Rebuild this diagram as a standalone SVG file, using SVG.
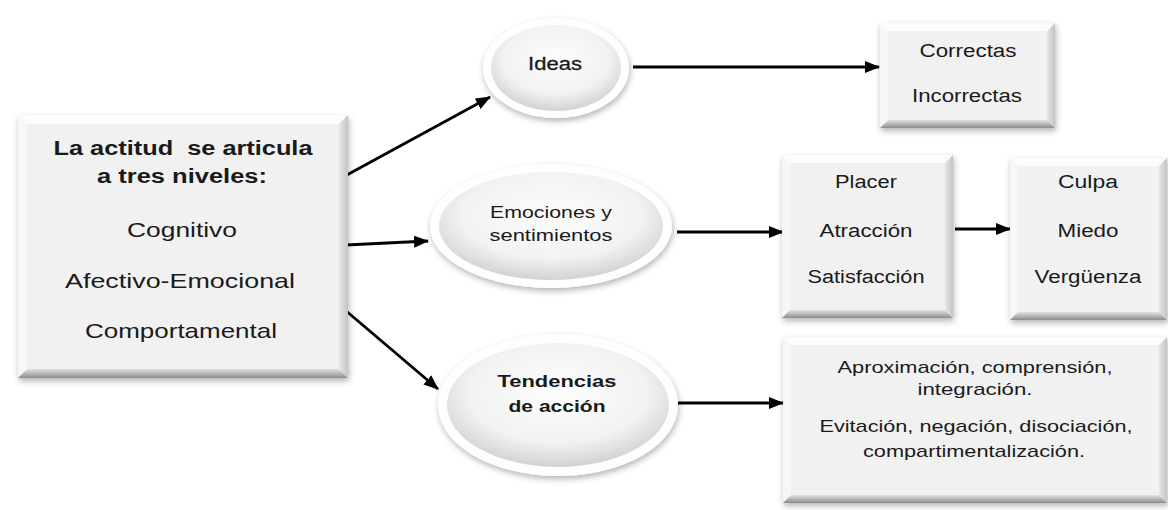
<svg xmlns="http://www.w3.org/2000/svg" width="1168" height="510" viewBox="0 0 1168 510">
<style>
text{font-family:"Liberation Sans",Arial,sans-serif;fill:#1a1a1a;text-anchor:middle;white-space:pre}
.b{font-weight:bold}
.conn{stroke:#000;stroke-width:2.8;fill:none}
.bt{fill:#fcfcfc}.bl{fill:#f7f7f7}.bb{fill:url(#gb)}.br{fill:url(#gr)}.face{fill:#f1f1f1}
.outer{fill:#f8f8f8}
.ering{fill:#fefefe}
.einner{fill:url(#ge)}
</style>
<defs>
<filter id="sh" x="-10%" y="-10%" width="125%" height="130%">
<feGaussianBlur in="SourceAlpha" stdDeviation="3"/>
<feOffset dx="1" dy="3" result="o"/>
<feComponentTransfer><feFuncA type="linear" slope="0.3"/></feComponentTransfer>
<feMerge><feMergeNode/><feMergeNode in="SourceGraphic"/></feMerge>
</filter>
<linearGradient id="gb" x1="0" y1="0" x2="0" y2="1"><stop offset="0" stop-color="#e2e2e2"/><stop offset="1" stop-color="#8c8c8c"/></linearGradient>
<linearGradient id="gr" x1="0" y1="0" x2="1" y2="0"><stop offset="0" stop-color="#e6e6e6"/><stop offset="1" stop-color="#c4c4c4"/></linearGradient>
<radialGradient id="ge" cx="50%" cy="40%" r="62%"><stop offset="0" stop-color="#fdfdfd"/><stop offset="0.65" stop-color="#f2f2f2"/><stop offset="1" stop-color="#cfcfcf"/></radialGradient>
<marker id="ah" markerUnits="userSpaceOnUse" markerWidth="16" markerHeight="14" refX="14" refY="7" orient="auto"><path d="M0,1 L15,7 L0,13 Z" fill="#000"/></marker>
</defs>

<g id="connectors">
<line class="conn" x1="345" y1="176" x2="490" y2="97" marker-end="url(#ah)"/>
<line class="conn" x1="346" y1="245" x2="428" y2="241" marker-end="url(#ah)"/>
<line class="conn" x1="345" y1="310" x2="438" y2="389" marker-end="url(#ah)"/>
<line class="conn" x1="633" y1="67" x2="879" y2="67" marker-end="url(#ah)"/>
<line class="conn" x1="677" y1="232" x2="783" y2="232" marker-end="url(#ah)"/>
<line class="conn" x1="955" y1="229" x2="1010" y2="229" marker-end="url(#ah)"/>
<line class="conn" x1="678" y1="403" x2="783" y2="403" marker-end="url(#ah)"/>
</g>

<g id="actitud">
<rect class="outer" x="18" y="115" width="330" height="263" filter="url(#sh)"/>
<polygon class="bt" points="18,115 348,115 339,124 27,124"/>
<polygon class="bl" points="18,115 27,124 27,369 18,378"/>
<polygon class="bb" points="18,378 27,369 339,369 348,378"/>
<polygon class="br" points="348,115 348,378 339,369 339,124"/>
<rect class="face" x="27" y="124" width="312" height="245"/>
<text class="b" x="183" y="155" font-size="20" textLength="259" lengthAdjust="spacingAndGlyphs">La actitud  se articula</text>
<text class="b" x="182" y="183" font-size="20" textLength="170" lengthAdjust="spacingAndGlyphs">a tres niveles:</text>
<text x="182" y="237" font-size="21" textLength="110" lengthAdjust="spacingAndGlyphs">Cognitivo</text>
<text x="180" y="288" font-size="21" textLength="230" lengthAdjust="spacingAndGlyphs">Afectivo-Emocional</text>
<text x="181" y="338" font-size="21" textLength="192" lengthAdjust="spacingAndGlyphs">Comportamental</text>
</g>

<g id="ideas">
<ellipse class="ering" cx="556" cy="68" rx="73" ry="50" filter="url(#sh)"/>
<ellipse class="einner" cx="556" cy="68" rx="65" ry="43"/>
<text x="555" y="70" font-size="18" stroke="#1a1a1a" stroke-width="0.3" textLength="54" lengthAdjust="spacingAndGlyphs">Ideas</text>
</g>

<g id="emociones">
<ellipse class="ering" cx="551" cy="226" rx="121" ry="62" filter="url(#sh)"/>
<ellipse class="einner" cx="551" cy="226" rx="112" ry="54"/>
<text x="551" y="218" font-size="17" textLength="122" lengthAdjust="spacingAndGlyphs">Emociones y</text>
<text x="551" y="241" font-size="17" textLength="123" lengthAdjust="spacingAndGlyphs">sentimientos</text>
</g>

<g id="tendencias">
<ellipse class="ering" cx="558" cy="405" rx="120" ry="71" filter="url(#sh)"/>
<ellipse class="einner" cx="558" cy="405" rx="111" ry="62"/>
<text class="b" x="557" y="387" font-size="17" textLength="119" lengthAdjust="spacingAndGlyphs">Tendencias</text>
<text class="b" x="557" y="412" font-size="17" textLength="97" lengthAdjust="spacingAndGlyphs">de acción</text>
</g>

<g id="correctas">
<rect class="outer" x="880" y="23" width="175" height="105" filter="url(#sh)"/>
<polygon class="bt" points="880,23 1055,23 1047,31 888,31"/>
<polygon class="bl" points="880,23 888,31 888,120 880,128"/>
<polygon class="bb" points="880,128 888,120 1047,120 1055,128"/>
<polygon class="br" points="1055,23 1055,128 1047,120 1047,31"/>
<rect class="face" x="888" y="31" width="159" height="89"/>
<text x="968" y="57" font-size="18" textLength="97" lengthAdjust="spacingAndGlyphs">Correctas</text>
<text x="967" y="102" font-size="18" textLength="110" lengthAdjust="spacingAndGlyphs">Incorrectas</text>
</g>

<g id="placer">
<rect class="outer" x="782" y="155" width="171" height="163" filter="url(#sh)"/>
<polygon class="bt" points="782,155 953,155 945,163 790,163"/>
<polygon class="bl" points="782,155 790,163 790,310 782,318"/>
<polygon class="bb" points="782,318 790,310 945,310 953,318"/>
<polygon class="br" points="953,155 953,318 945,310 945,163"/>
<rect class="face" x="790" y="163" width="155" height="147"/>
<text x="866" y="188" font-size="18" textLength="62" lengthAdjust="spacingAndGlyphs">Placer</text>
<text x="866" y="237" font-size="18" textLength="93" lengthAdjust="spacingAndGlyphs">Atracción</text>
<text x="866" y="283" font-size="18" textLength="117" lengthAdjust="spacingAndGlyphs">Satisfacción</text>
</g>

<g id="culpa">
<rect class="outer" x="1010" y="158" width="157" height="162" filter="url(#sh)"/>
<polygon class="bt" points="1010,158 1167,158 1159,166 1018,166"/>
<polygon class="bl" points="1010,158 1018,166 1018,312 1010,320"/>
<polygon class="bb" points="1010,320 1018,312 1159,312 1167,320"/>
<polygon class="br" points="1167,158 1167,320 1159,312 1159,166"/>
<rect class="face" x="1018" y="166" width="141" height="146"/>
<text x="1088" y="188" font-size="18" textLength="60" lengthAdjust="spacingAndGlyphs">Culpa</text>
<text x="1088" y="237" font-size="18" textLength="61" lengthAdjust="spacingAndGlyphs">Miedo</text>
<text x="1088" y="283" font-size="18" textLength="107" lengthAdjust="spacingAndGlyphs">Vergüenza</text>
</g>

<g id="accion">
<rect class="outer" x="783" y="337" width="384" height="166" filter="url(#sh)"/>
<polygon class="bt" points="783,337 1167,337 1159,345 791,345"/>
<polygon class="bl" points="783,337 791,345 791,495 783,503"/>
<polygon class="bb" points="783,503 791,495 1159,495 1167,503"/>
<polygon class="br" points="1167,337 1167,503 1159,495 1159,345"/>
<rect class="face" x="791" y="345" width="368" height="150"/>
<text x="975" y="373" font-size="17" textLength="275" lengthAdjust="spacingAndGlyphs">Aproximación, comprensión,</text>
<text x="975" y="395" font-size="17" textLength="115" lengthAdjust="spacingAndGlyphs">integración.</text>
<text x="976" y="432" font-size="17" textLength="313" lengthAdjust="spacingAndGlyphs">Evitación, negación, disociación,</text>
<text x="974" y="457" font-size="17" textLength="222" lengthAdjust="spacingAndGlyphs">compartimentalización.</text>
</g>
</svg>
